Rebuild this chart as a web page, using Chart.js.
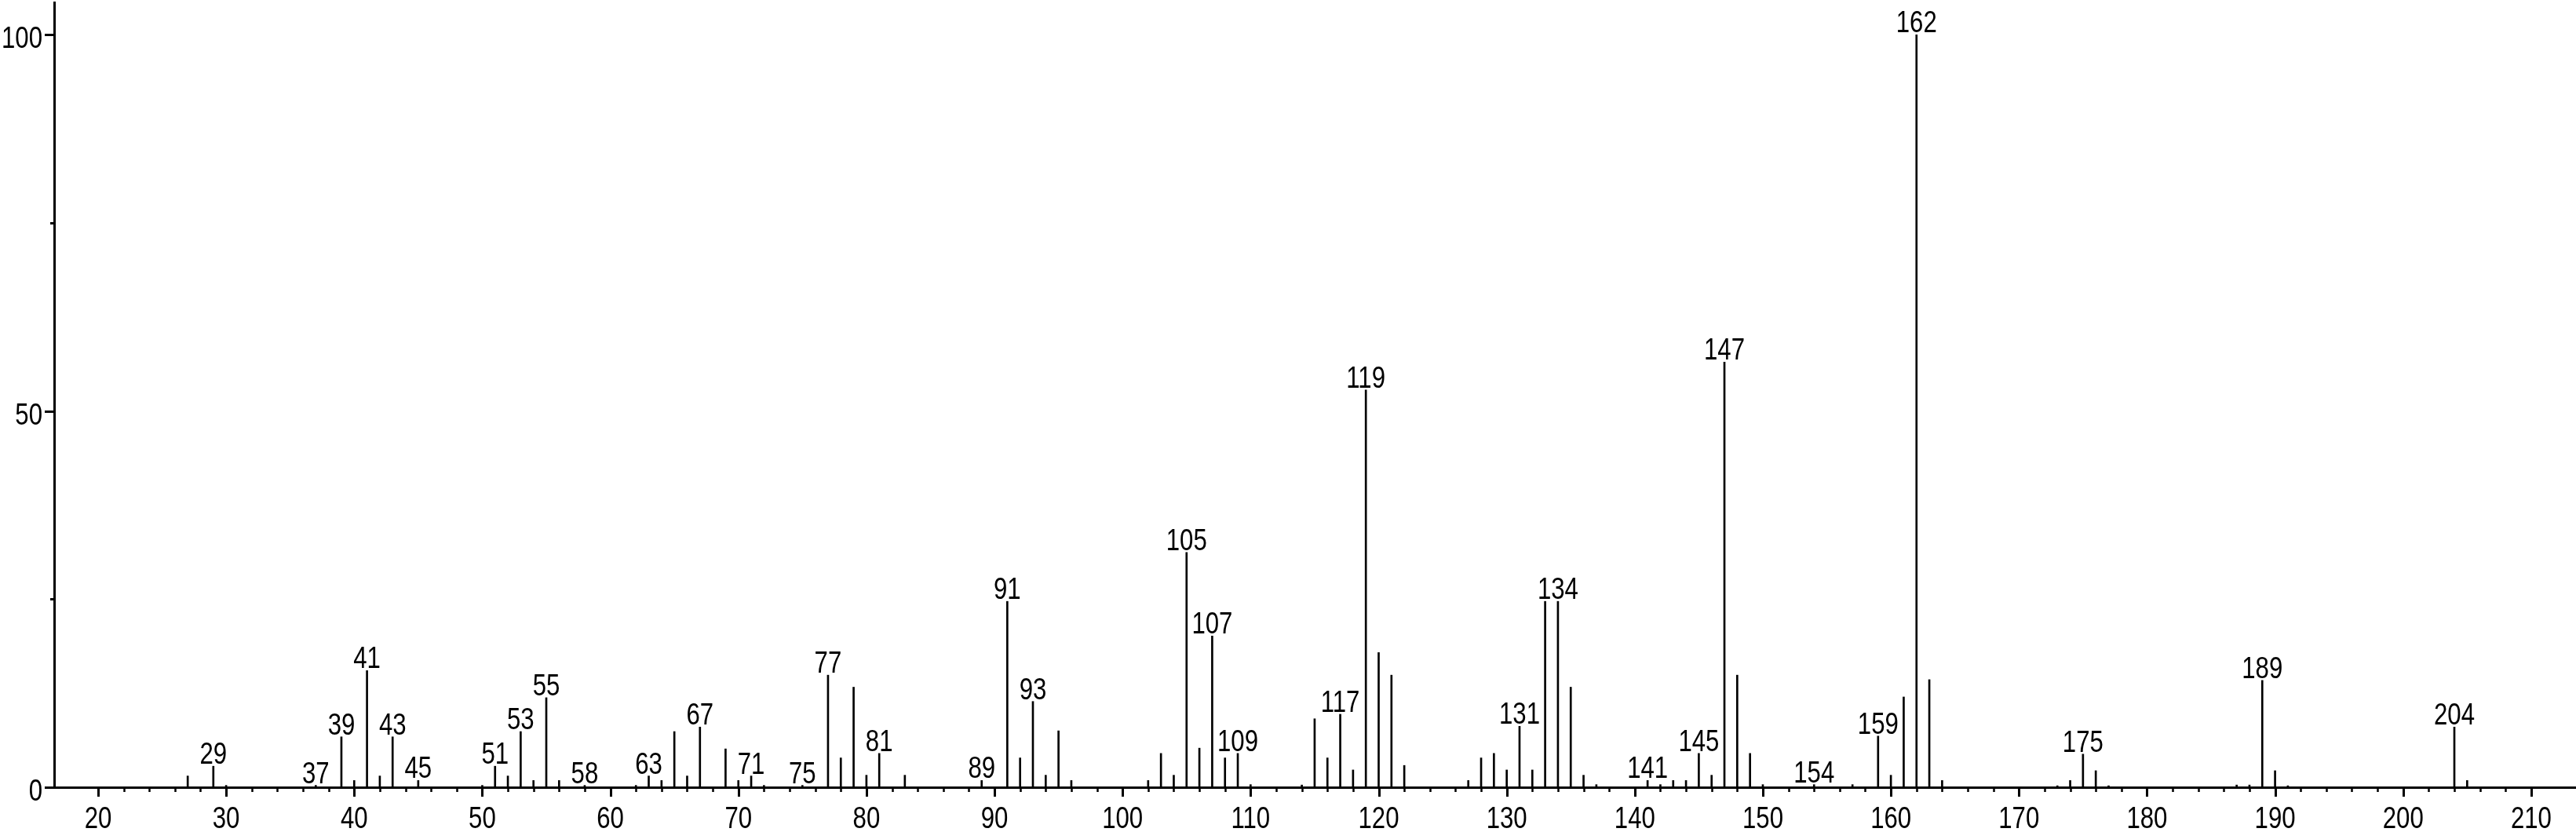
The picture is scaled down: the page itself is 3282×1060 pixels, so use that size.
<!DOCTYPE html>
<html>
<head>
<meta charset="utf-8">
<style>
  html, body { margin: 0; padding: 0; background: #fff; }
  canvas { display: block; }
</style>
<script src="https://cdn.jsdelivr.net/npm/chart.js@4/dist/chart.umd.min.js"></script>
</head>
<body>
<canvas id="spectrum" width="3282" height="1060"></canvas>
<script>
// m/z values and their relative intensities (%)
const masses = [
  27, 29, 30, 37, 39, 40, 41, 42, 43, 45,
  50, 51, 52, 53, 54, 55, 56, 58, 62, 63,
  64, 65, 66, 67, 69, 70, 71, 72, 75, 77,
  78, 79, 80, 81, 83, 89, 91, 92, 93, 94,
  95, 96, 102, 103, 104, 105, 106, 107, 108, 109,
  110, 114, 115, 116, 117, 118, 119, 120, 121, 122,
  127, 128, 129, 130, 131, 132, 133, 134, 135, 136,
  137, 141, 142, 143, 144, 145, 146, 147, 148, 149,
  150, 154, 157, 159, 160, 161, 162, 163, 164, 173,
  174, 175, 176, 177, 187, 188, 189, 190, 191, 204,
  205
]
const intensities = [
  1.5, 2.8, 0.25, 0.25, 6.7, 0.9, 15.5, 1.5, 6.7, 0.9,
  0.25, 2.8, 1.5, 7.4, 0.9, 11.9, 0.9, 0.25, 0.25, 1.5,
  0.9, 7.4, 1.5, 8.0, 5.1, 0.9, 1.5, 0.25, 0.25, 14.9,
  3.9, 13.3, 1.6, 4.5, 1.6, 0.9, 24.7, 3.9, 11.4, 1.6,
  7.5, 0.9, 0.9, 4.5, 1.6, 31.2, 5.2, 20.1, 3.9, 4.5,
  0.35, 0.3, 9.1, 3.9, 9.7, 2.3, 52.8, 17.9, 14.9, 2.9,
  0.9, 3.9, 4.5, 2.3, 8.1, 2.3, 24.7, 24.7, 13.3, 1.6,
  0.35, 0.9, 0.35, 0.9, 0.9, 4.5, 1.6, 56.5, 14.9, 4.5,
  0.35, 0.35, 0.35, 6.8, 1.6, 12.0, 100, 14.3, 0.9, 0.2,
  0.9, 4.4, 2.2, 0.2, 0.3, 0.3, 14.2, 2.2, 0.2, 8.0,
  0.9
]
// peaks that carry their m/z as a label
const labeledMasses = [
  29, 37, 39, 41, 43, 45, 51, 53, 55, 58, 63, 67, 71, 75, 77, 81, 89, 91, 93,
  105, 107, 109, 117, 119, 131, 134, 141, 145, 147, 154, 159, 162, 175, 189, 204
]
const xTickLabels = [20, 30, 40, 50, 60, 70, 80, 90, 100, 110, 120, 130, 140, 150, 160, 170, 180, 190, 200, 210]
const xMinorStep = 2
const yTickLabels = [0, 50, 100]
const yMinorTicks = [25, 75]

// no narrow font installed: squeeze Liberation Sans horizontally
const FONT = "38px 'Liberation Sans', Arial, sans-serif"
const NARROW = 0.82

function narrowText(ctx, text, x, y, align) {
  ctx.save()
  ctx.translate(x, y)
  ctx.scale(NARROW, 1)
  ctx.textAlign = align
  ctx.fillText(text, 0, 0)
  ctx.restore()
}

const axisDecor = {
  id: 'axisDecor',
  afterDraw(chart) {
    const ctx = chart.ctx
    const xs = chart.scales.x
    const ys = chart.scales.y
    const area = chart.chartArea
    ctx.save()
    ctx.strokeStyle = '#000'
    ctx.lineWidth = 3
    ctx.beginPath()
    yTickLabels.forEach(v => {
      const y = Math.round(ys.getPixelForValue(v)) + 0.5
      ctx.moveTo(area.left - 12, y)
      ctx.lineTo(area.left, y)
    })
    yMinorTicks.forEach(v => {
      const y = Math.round(ys.getPixelForValue(v)) + 0.5
      ctx.moveTo(area.left - 5, y)
      ctx.lineTo(area.left, y)
    })
    xTickLabels.forEach(v => {
      const x = Math.round(xs.getPixelForValue(v)) + 0.5
      ctx.moveTo(x, area.bottom)
      ctx.lineTo(x, area.bottom + 12)
    })
    ctx.stroke()
    ctx.lineWidth = 2.5
    ctx.beginPath()
    const first = xTickLabels[0]
    const last = xTickLabels[xTickLabels.length - 1]
    for (let v = first + xMinorStep; v < last; v += xMinorStep) {
      if (xTickLabels.includes(v)) continue
      const x = Math.round(xs.getPixelForValue(v)) + 0.5
      ctx.moveTo(x, area.bottom)
      ctx.lineTo(x, area.bottom + 6)
    }
    ctx.stroke()

    ctx.fillStyle = '#000'
    ctx.font = FONT
    ctx.textBaseline = 'alphabetic'
    // axis labels
    yTickLabels.forEach(v => {
      narrowText(ctx, String(v), area.left - 15, ys.getPixelForValue(v) + 17, 'right')
    })
    xTickLabels.forEach(v => {
      narrowText(ctx, String(v), xs.getPixelForValue(v), area.bottom + 52, 'center')
    })
    // peak labels
    labeledMasses.forEach(m => {
      const i = masses.indexOf(m)
      if (i < 0) return
      narrowText(ctx, String(m), xs.getPixelForValue(m), ys.getPixelForValue(intensities[i]) - 3, 'center')
    })
    ctx.restore()
  }
}

const data = masses.map((m, i) => ({ x: m, y: intensities[i] }))

new Chart(document.getElementById('spectrum'), {
  type: 'bar',
  data: {
    datasets: [{
      data,
      backgroundColor: '#000',
      borderWidth: 0,
      barThickness: 2
    }]
  },
  options: {
    responsive: false,
    devicePixelRatio: 1,
    animation: false,
    layout: { padding: { top: 3, right: 0, bottom: 0, left: 0 } },
    plugins: {
      legend: { display: false },
      tooltip: { enabled: false }
    },
    scales: {
      x: {
        type: 'linear',
        position: 'bottom',
        min: 16.57,
        max: 213.5,
        offset: false,
        grid: { display: true, drawOnChartArea: false, drawTicks: false, offset: false },
        border: { display: true, color: '#000', width: 3 },
        afterBuildTicks: scale => { scale.ticks = xTickLabels.map(v => ({ value: v })) },
        afterFit: scale => { scale.height = 57 },
        ticks: { display: false }
      },
      y: {
        type: 'linear',
        position: 'left',
        min: 0,
        max: 104.3,
        grid: { display: true, drawOnChartArea: false, drawTicks: false },
        border: { display: true, color: '#000', width: 3 },
        afterBuildTicks: scale => { scale.ticks = yTickLabels.map(v => ({ value: v })) },
        afterFit: scale => { scale.width = 69 },
        ticks: { display: false }
      }
    }
  },
  plugins: [axisDecor]
})
</script>
</body>
</html>
